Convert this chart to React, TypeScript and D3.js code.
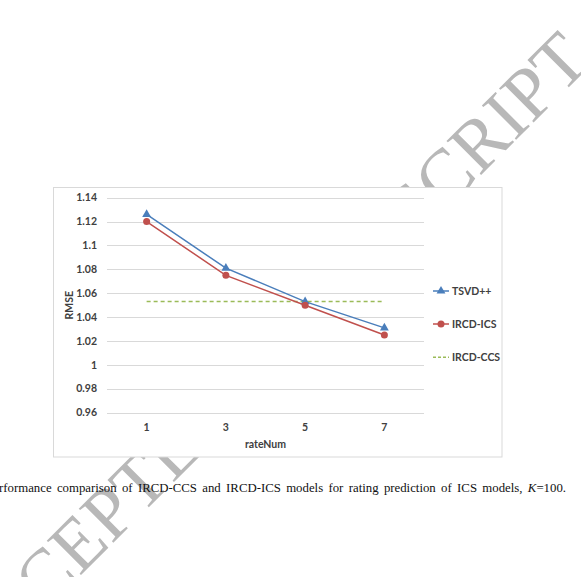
import React, { useEffect, useRef } from 'react';
import * as d3 from 'd3';

const rateNums = ['1', '3', '5', '7'];
const tsvd = [1.126, 1.081, 1.053, 1.031];
const ircdIcs = [1.12, 1.075, 1.05, 1.025];
const ircdCcs = [1.053, 1.053, 1.053, 1.053];
const yTicks = [0.96, 0.98, 1, 1.02, 1.04, 1.06, 1.08, 1.1, 1.12, 1.14];
const seriesNames = ['TSVD++', 'IRCD-ICS', 'IRCD-CCS'];
const caption = 'rformance comparison of IRCD-CCS and IRCD-ICS models for rating prediction of ICS models, ';

const W = 581;
const H = 577;
const chartFont = 'Lato, "Open Sans", sans-serif';

export default function App() {
  const ref = useRef<SVGSVGElement>(null);

  useEffect(() => {
    const svg = d3.select(ref.current);
    svg.selectAll('*').remove();

    // watermark, drawn first so the chart box covers it
    svg.append('text')
      .attr('transform', 'translate(-28,684) rotate(-45)')
      .attr('font-family', '"Liberation Serif", "Times New Roman", serif')
      .attr('font-size', 74)
      .attr('fill', '#b8b8b8')
      .text('ACCEPTED MANUSCRIPT');

    // chart box
    svg.append('rect')
      .attr('x', 53.5).attr('y', 187.5)
      .attr('width', 448.5).attr('height', 269.5)
      .attr('fill', '#fff')
      .attr('stroke', '#d9d9d9');

    const x = d3.scaleBand().domain(rateNums).range([107, 424]);
    const y = d3.scaleLinear().domain([0.96, 1.14]).range([412.7, 197.7]);
    const cx = (i: number) => x(rateNums[i])! + x.bandwidth() / 2;

    const g = svg.append('g');

    g.selectAll('.grid').data(yTicks).join('line')
      .attr('class', 'grid')
      .attr('x1', 107).attr('x2', 424)
      .attr('y1', d => Math.round(y(d)) + 0.5)
      .attr('y2', d => Math.round(y(d)) + 0.5)
      .attr('stroke', '#d9d9d9');

    g.selectAll('.ylab').data(yTicks).join('text')
      .attr('class', 'ylab')
      .attr('x', 97).attr('y', d => y(d))
      .attr('dy', '0.35em')
      .attr('text-anchor', 'end')
      .attr('font-family', chartFont).attr('font-weight', 700)
      .attr('font-size', 10.5).attr('fill', '#404040')
      .text(d => d3.format('')(d));

    g.selectAll('.xlab').data(rateNums).join('text')
      .attr('class', 'xlab')
      .attr('x', d => x(d)! + x.bandwidth() / 2).attr('y', 427)
      .attr('dy', '0.35em')
      .attr('text-anchor', 'middle')
      .attr('font-family', chartFont).attr('font-weight', 700)
      .attr('font-size', 10.5).attr('fill', '#404040')
      .text(d => d);

    g.append('text')
      .attr('x', 265.5).attr('y', 444).attr('dy', '0.35em')
      .attr('text-anchor', 'middle')
      .attr('font-family', chartFont).attr('font-weight', 700)
      .attr('font-size', 10.5).attr('fill', '#404040')
      .text('rateNum');

    g.append('text')
      .attr('transform', `translate(69,${(y(0.96) + y(1.14)) / 2}) rotate(-90)`)
      .attr('dy', '0.35em')
      .attr('text-anchor', 'middle')
      .attr('font-family', chartFont).attr('font-weight', 700)
      .attr('font-size', 10.5).attr('fill', '#404040')
      .text('RMSE');

    const line = d3.line<number>().x((d, i) => cx(i)).y(d => y(d));
    const colors = ['#4a7ebb', '#c0504d', '#9bbb59'];
    const tri = d3.symbol().type(d3.symbolTriangle).size(34);

    // IRCD-CCS dashed
    g.append('path').datum(ircdCcs)
      .attr('d', line).attr('fill', 'none')
      .attr('stroke', colors[2]).attr('stroke-width', 1.5)
      .attr('stroke-dasharray', '4,3');

    g.append('path').datum(tsvd)
      .attr('d', line).attr('fill', 'none')
      .attr('stroke', colors[0]).attr('stroke-width', 1.5);
    g.selectAll('.tri').data(tsvd).join('path')
      .attr('class', 'tri')
      .attr('transform', (d, i) => `translate(${cx(i)},${y(d)})`)
      .attr('d', tri).attr('fill', colors[0]);

    g.append('path').datum(ircdIcs)
      .attr('d', line).attr('fill', 'none')
      .attr('stroke', colors[1]).attr('stroke-width', 1.5);
    g.selectAll('.dot').data(ircdIcs).join('circle')
      .attr('class', 'dot')
      .attr('cx', (d, i) => cx(i)).attr('cy', d => y(d))
      .attr('r', 3.5).attr('fill', colors[1]);

    // legend
    const legY = [291, 324, 357.3];
    seriesNames.forEach((name, i) => {
      const lg = g.append('g').attr('transform', `translate(0,${legY[i]})`);
      lg.append('line')
        .attr('x1', 433).attr('x2', 449)
        .attr('stroke', colors[i]).attr('stroke-width', 1.5)
        .attr('stroke-dasharray', i === 2 ? '3,2' : null);
      if (i === 0) lg.append('path').attr('transform', 'translate(441,0)').attr('d', tri).attr('fill', colors[0]);
      if (i === 1) lg.append('circle').attr('cx', 441).attr('r', 3.5).attr('fill', colors[1]);
      lg.append('text')
        .attr('x', 452).attr('dy', '0.35em')
        .attr('font-family', chartFont).attr('font-weight', 700)
        .attr('font-size', 10.5).attr('fill', '#404040')
        .text(name);
    });

    // caption, justified to the right edge
    const cap = svg.append('text')
      .attr('x', -1).attr('y', 492)
      .attr('font-family', '"Liberation Serif", "Times New Roman", serif')
      .attr('font-size', 12.8).attr('fill', '#111');
    cap.append('tspan').text(caption);
    cap.append('tspan').attr('font-style', 'italic').text('K');
    cap.append('tspan').text('=100.');
    const natural = (cap.node() as SVGTextElement).getComputedTextLength();
    const gaps = caption.split(' ').length - 1;
    cap.attr('word-spacing', (566 + 1 - natural) / gaps);
  }, []);

  return (
    <svg ref={ref} width={W} height={H}
      style={{ position: 'absolute', left: 0, top: 0, background: '#fff' }} />
  );
}
